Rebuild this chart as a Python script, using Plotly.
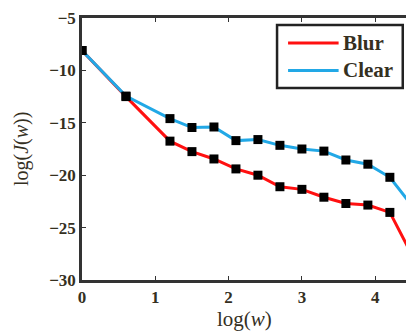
import plotly.graph_objects as go

log_w = [0, 0.6, 1.2, 1.5, 1.8, 2.1, 2.4, 2.7, 3.0, 3.3, 3.6, 3.9, 4.2, 4.5]
blur = [-8.1, -12.5, -16.75, -17.75, -18.45, -19.4, -20.0, -21.1, -21.35, -22.1, -22.7, -22.85, -23.55, -27.6]
clear = [-8.1, -12.45, -14.6, -15.45, -15.4, -16.7, -16.6, -17.15, -17.5, -17.7, -18.55, -18.95, -20.2, -22.9]
series_names = ["Blur", "Clear"]
series_colors = ["#ff1010", "#22a8e6"]

y_ticks = [-30, -25, -20, -15, -10, -5]
x_ticks = [0, 1, 2, 3, 4]

font_fam = "Liberation Serif"
txt_col = "#35301f"

fig = go.Figure()
for name, vals, col in zip(series_names, [blur, clear], series_colors):
    fig.add_trace(go.Scatter(
        x=log_w, y=vals, name=name, mode="lines",
        line=dict(color=col, width=3), showlegend=False,
    ))
for vals in [blur, clear]:
    fig.add_trace(go.Scatter(
        x=log_w, y=vals, mode="markers", showlegend=False,
        marker=dict(symbol="square", size=9, color="black"),
    ))

# manual legend box (paper coords relative to plot area)
shapes = [dict(type="rect", xref="paper", yref="paper", x0=0.602, x1=0.99, y0=0.733, y1=0.973,
               line=dict(color="#222", width=2.5), fillcolor="white", layer="above")]
annotations = []
leg_y = [0.905, 0.80]
for name, col, ly in zip(series_names, series_colors, leg_y):
    shapes.append(dict(type="line", xref="paper", yref="paper", x0=0.636, x1=0.792, y0=ly, y1=ly,
                       line=dict(color=col, width=3), layer="above"))
    annotations.append(dict(text="<b>%s</b>" % name, xref="paper", yref="paper", x=0.80, y=ly,
                            xanchor="left", yanchor="middle", showarrow=False,
                            font=dict(family=font_fam, size=21, color=txt_col)))

annotations += [
    dict(text="log(<i>w</i>)", xref="paper", yref="paper", x=0.5, y=0,
         yshift=-25, xanchor="center", yanchor="top", showarrow=False,
         font=dict(family=font_fam, size=21, color=txt_col)),
    dict(text="log(<i>J</i>(<i>w</i>))", xref="paper", yref="paper", x=0, y=0.5,
         xshift=-61, xanchor="center", yanchor="middle", textangle=-90, showarrow=False,
         font=dict(family=font_fam, size=20, color=txt_col)),
]

fig.update_layout(
    width=406, height=333,
    margin=dict(l=82, r=0, t=18, b=53),
    paper_bgcolor="white", plot_bgcolor="white",
    font=dict(family=font_fam, size=17, color=txt_col),
    showlegend=False,
    xaxis=dict(
        range=[0, 4.42], tickvals=x_ticks, ticks="inside", ticklen=4,
        tickcolor="#333", showline=True, linecolor="#333", linewidth=2.5,
        mirror="ticks", showgrid=False, zeroline=False, automargin=False,
        tickfont=dict(family=font_fam, size=17, color=txt_col, weight="bold"),
    ),
    yaxis=dict(
        range=[-30, -5], tickvals=y_ticks, ticks="inside", ticklen=4,
        tickcolor="#333", showline=True, linecolor="#333", linewidth=2.5,
        mirror=False, showgrid=False, zeroline=False, automargin=False,
        tickfont=dict(family=font_fam, size=17, color=txt_col, weight="bold"),
    ),
    shapes=shapes,
    annotations=annotations,
)

fig.write_html(
    "out.html",
    config={"displayModeBar": False},
    post_script="document.body.style.margin='0';document.body.style.overflow='hidden';",
)
